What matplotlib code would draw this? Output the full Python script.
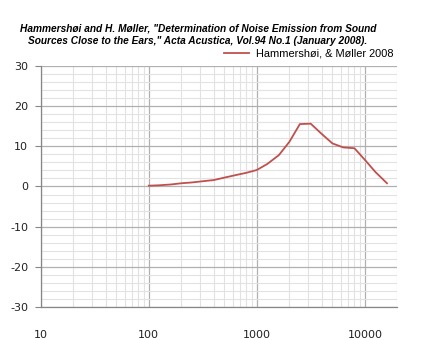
import matplotlib
matplotlib.use("Agg")
import matplotlib.pyplot as plt
import numpy as np

freqs = [100, 125, 160, 200, 250, 315, 400, 500, 630, 800, 1000, 1250, 1600,
         2000, 2500, 3150, 4000, 5000, 6300, 8000, 10000, 12500, 16000]
levels = [0.2, 0.3, 0.5, 0.8, 1.0, 1.3, 1.6, 2.2, 2.8, 3.4, 4.1, 5.6, 7.8,
          11.1, 15.5, 15.6, 13.0, 10.7, 9.7, 9.5, 6.6, 3.6, 0.8]
series_name = "Hammershøi, & Møller 2008"
title_text = ('Hammershøi and H. Møller, "Determination of Noise Emission from Sound\n'
              'Sources Close to the Ears," Acta Acustica, Vol.94 No.1 (January 2008).')
xticks = [10, 100, 1000, 10000]
yticks = [-30, -20, -10, 0, 10, 20, 30]

fig = plt.figure(figsize=(4.25, 3.4), dpi=100)
ax = fig.add_axes([0.0958, 0.0962, 0.8394, 0.7106])

ax.plot(freqs, levels, color="#c0504d", lw=1.3, label=series_name, zorder=3)
ax.set_xscale("log")
ax.set_xlim(10, 20000)
ax.set_ylim(-30, 30)
ax.set_xticks(xticks)
ax.set_xticklabels([str(t) for t in xticks])
ax.set_yticks(yticks)
ax.set_yticklabels([str(t) for t in yticks])
ax.set_yticks(np.arange(-30, 31, 2), minor=True)
ax.xaxis.set_minor_locator(matplotlib.ticker.LogLocator(base=10, subs=np.arange(2, 10)))
ax.xaxis.set_minor_formatter(matplotlib.ticker.NullFormatter())

ax.grid(which="major", color="#b0b0b0", lw=0.9)
ax.grid(which="minor", color="#e2e2e2", lw=0.8)
ax.set_axisbelow(True)
for s in ["top", "right"]:
    ax.spines[s].set_visible(False)
for s in ["left", "bottom"]:
    ax.spines[s].set_color("#868686")
    ax.spines[s].set_linewidth(0.9)

ax.tick_params(axis="y", which="major", length=4, color="#868686", pad=5,
               labelsize=8, labelcolor="#222222")
ax.tick_params(axis="y", which="minor", length=0)
ax.tick_params(axis="x", which="both", length=0, pad=16, labelsize=8,
               labelcolor="#222222")
for lab in ax.get_xticklabels() + ax.get_yticklabels():
    lab.set_family("DejaVu Sans")

fig.text(0.466, 0.897, title_text, ha="center", va="center",
         fontsize=7.3, fontweight="bold", fontstyle="italic",
         family="Liberation Sans", linespacing=1.3)

leg = fig.legend(loc="center left", bbox_to_anchor=(0.527, 0.842), frameon=False,
                 fontsize=7.9, handlelength=2.3, handletextpad=0.6,
                 borderaxespad=0, borderpad=0)
for t in leg.get_texts():
    t.set_family("Liberation Sans")

fig.savefig("out.png", dpi=100)
